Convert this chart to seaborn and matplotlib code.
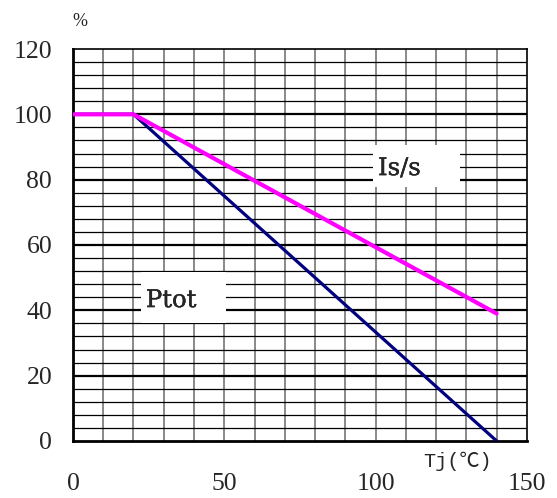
import matplotlib
matplotlib.use("Agg")
import matplotlib.pyplot as plt
import matplotlib.patheffects as pe
from matplotlib.patches import Rectangle
import seaborn as sns
import pandas as pd
import numpy as np

# data
tj_ptot = [0, 20, 140]
ptot = [100, 100, 0]
tj_iss = [0, 20, 140]
iss = [100, 100, 39]
x_ticks = [0, 50, 100, 150]
y_ticks = [0, 20, 40, 60, 80, 100, 120]

sns.set_theme(style="white")
plt.rcParams['font.family'] = ['Liberation Serif', 'Noto Sans CJK SC', 'DejaVu Sans']

fig = plt.figure(figsize=(5.57, 4.98), dpi=100)
ax = fig.add_axes([0.131, 0.1145, 0.815, 0.7871])

# grid
for xv in np.arange(10, 150, 10):
    ax.axvline(xv, color='#6a6a6a', lw=1.1, zorder=1)
for yv in np.arange(4, 120, 4):
    if yv % 20 == 0:
        ax.axhline(yv, color='black', lw=1.6, zorder=1)
    else:
        ax.axhline(yv, color='black', lw=0.9, zorder=1)

df1 = pd.DataFrame({'Tj': tj_ptot, 'P': ptot})
df2 = pd.DataFrame({'Tj': tj_iss, 'P': iss})
sns.lineplot(data=df1, x='Tj', y='P', color='#000080', lw=2.3, ax=ax, zorder=3)
sns.lineplot(data=df2, x='Tj', y='P', color='#FF00FF', lw=3.0, ax=ax, zorder=4)

ax.set_xlim(0, 150)
ax.set_ylim(0, 120)
ax.set_xticks(x_ticks)
ax.set_yticks(y_ticks)
ax.set_xlabel('')
ax.set_ylabel('')
ax.tick_params(axis='x', direction='in', length=4, width=1.5, pad=23, labelsize=18.5, color='black')
ax.tick_params(axis='y', direction='in', length=0, pad=15, labelsize=18.5)
for s in ['left', 'bottom']:
    ax.spines[s].set_linewidth(2.0)
    ax.spines[s].set_color('black')
for s in ['right', 'top']:
    ax.spines[s].set_linewidth(1.2)
    ax.spines[s].set_color('black')

# label boxes
ax.add_patch(Rectangle((99.1, 77.7), 28.7, 12.9, facecolor='white', edgecolor='none', zorder=2))
ax.add_patch(Rectangle((22.5, 36.1), 28.0, 15.6, facecolor='white', edgecolor='none', zorder=2))
stroke = [pe.withStroke(linewidth=0.25, foreground='black')]
ax.text(100.8, 81.4, 'Is/s', fontsize=17.5, ha='left', va='baseline', zorder=5,
        family=['DejaVu Serif'], path_effects=stroke)
ax.text(24.1, 41.0, 'Ptot', fontsize=17.5, ha='left', va='baseline', zorder=5,
        family=['DejaVu Serif'], path_effects=stroke)

fig.text(79.5 / 557, 1 - 21.5 / 498, '%', fontsize=13, ha='center', va='center')
fig.text(458 / 557, 1 - 461 / 498, 'Tj(℃)', fontsize=14.5, ha='center', va='center',
         family=['Liberation Mono', 'Noto Sans CJK SC', 'DejaVu Sans'])

fig.savefig('out.png', dpi=100)
